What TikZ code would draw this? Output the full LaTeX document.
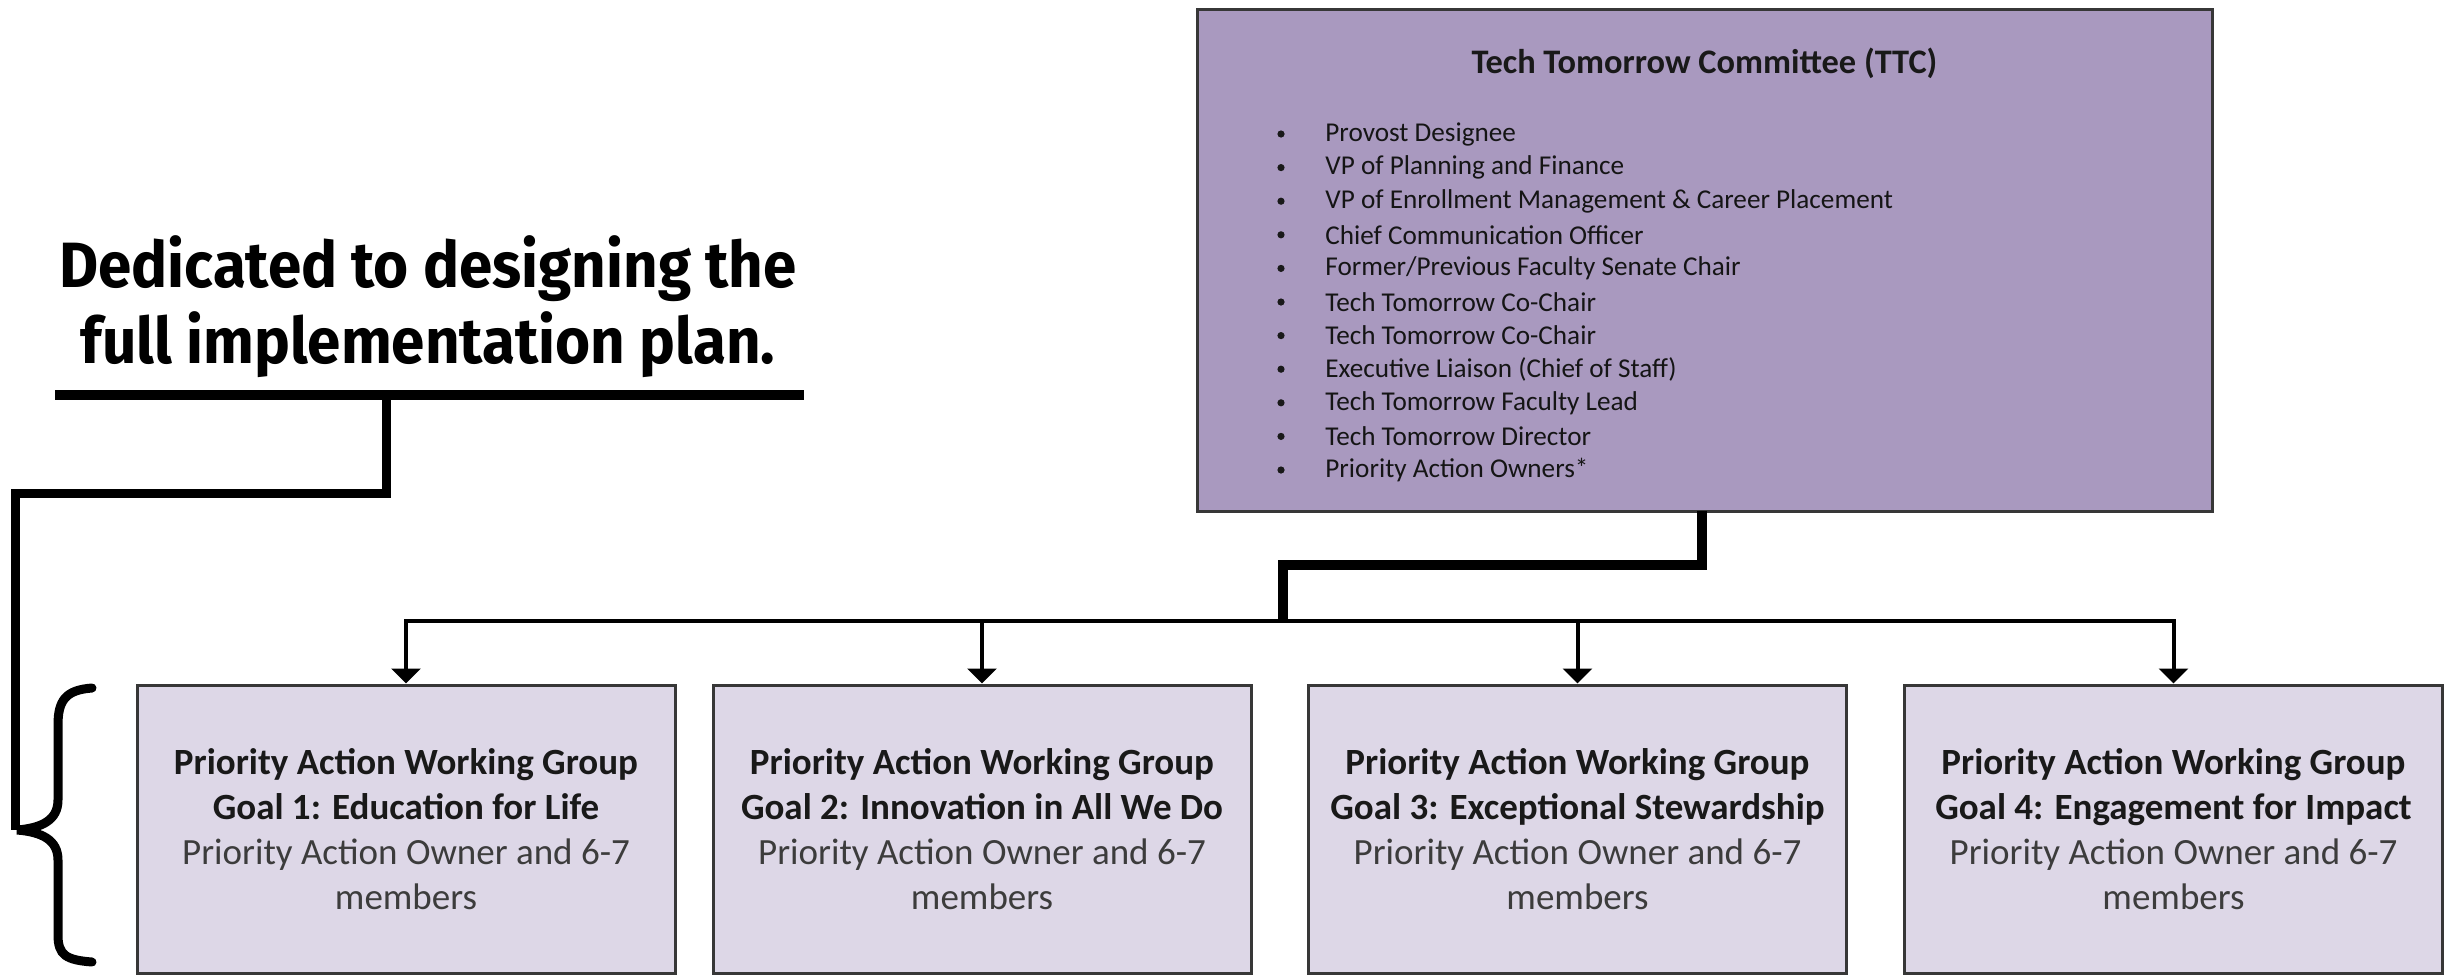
\documentclass[tikz,border=0pt]{standalone}
\usepackage{fontspec}
\setmainfont{Carlito}
\newfontfamily\notefont[FakeStretch=0.94]{Fira Sans}
\usetikzlibrary{arrows.meta}
\definecolor{ttcfill}{RGB}{169,153,191}
\definecolor{goalfill}{RGB}{221,215,231}
\definecolor{boxline}{RGB}{55,55,55}
\definecolor{bodytext}{RGB}{60,60,60}
\definecolor{headtext}{RGB}{25,25,25}
\begin{document}
\begin{tikzpicture}[x=0.5pt,y=-0.5pt,
  goalbox/.style={draw=boxline, line width=1.5pt, fill=goalfill, minimum width=269pt, minimum height=144pt,
    inner sep=0pt, align=center, font=\fontsize{18.5}{22.5}\selectfont, text=bodytext},
  ttcbox/.style={draw=boxline, line width=1.5pt, fill=ttcfill, minimum width=507.5pt, minimum height=251pt, inner sep=0pt},
  item/.style={anchor=west, font=\fontsize{13.6}{16}\selectfont, text=headtext!85!black, inner sep=0pt},
  dot/.style={circle, fill=headtext, inner sep=0pt, minimum size=3.6pt},
  notetext/.style={anchor=base, font=\notefont\bfseries\fontsize{32}{38}\selectfont, inner sep=0pt},
  heavy/.style={line width=5pt, line join=miter},
  bus/.style={line width=2pt, line join=miter},
  tip/.style={-{Triangle[width=14.5pt,length=7.5pt]}}
]
\useasboundingbox (0,0) rectangle (2448,976);

% Top committee box
\node[ttcbox] (ttc) at (1704.5,260) {};
\node[font=\bfseries\fontsize{17.2}{20}\selectfont, text=headtext] (title) at (1704.5,63) {Tech Tomorrow Committee (TTC)};
\foreach \t [count=\i from 0] in {Provost Designee,VP of Planning and Finance,VP of Enrollment Management \& Career Placement,Chief Communication Officer,Former/Previous Faculty Senate Chair,Tech Tomorrow Co-Chair,Tech Tomorrow Co-Chair,Executive Liaison (Chief of Staff),Tech Tomorrow Faculty Lead,Tech Tomorrow Director,Priority Action Owners*}{
  \node[dot] (b\i) at (1281,{134+\i*33.6}) {};
  \node[item] (it\i) at (1325,{134+\i*33.6}) {\t};
}

% Goal boxes
\node[goalbox] (g1) at (406,829) {\textbf{\color{headtext}Priority Action Working Group}\\\textbf{\color{headtext}Goal 1: Education for Life}\\Priority Action Owner and 6-7\\members};
\node[goalbox] (g2) at (982,829) {\textbf{\color{headtext}Priority Action Working Group}\\\textbf{\color{headtext}Goal 2: Innovation in All We Do}\\Priority Action Owner and 6-7\\members};
\node[goalbox] (g3) at (1577.5,829) {\textbf{\color{headtext}Priority Action Working Group}\\\textbf{\color{headtext}Goal 3: Exceptional Stewardship}\\Priority Action Owner and 6-7\\members};
\node[goalbox] (g4) at (2173.5,829) {\textbf{\color{headtext}Priority Action Working Group}\\\textbf{\color{headtext}Goal 4: Engagement for Impact}\\Priority Action Owner and 6-7\\members};

% Connectors
\coordinate (top) at (1702,511);
\coordinate (mid) at (1283,565);
\coordinate (bj) at (1283,621);
\draw[heavy] (top) |- (mid) -- (bj);
\draw[bus, {Triangle[width=14.5pt,length=7.5pt]}-{Triangle[width=14.5pt,length=7.5pt]}]
  (g1.north) -- (g1.north |- bj) -- (g4.north |- bj) -- (g4.north);
\draw[bus, tip] (g2.north |- bj) -- (g2.north);
\draw[bus, tip] (g3.north |- bj) -- (g3.north);

% Left note
\node[notetext] (note1) at (428,287) {Dedicated to designing the};
\node[notetext] (note2) at (428,363) {full implementation plan.};
\coordinate (ulL) at (55,395);
\coordinate (ulR) at (804,395);
\coordinate (ulM) at (386,395);
\coordinate (elbow) at (386,493);
\coordinate (corner) at (15,493);
\coordinate (btip) at (17,830);
\draw[line width=5pt] (ulL) -- (ulR);
\draw[line width=4.5pt, line join=miter] (ulM) -- (elbow) -- (corner) -- (15,830);

% Brace
\draw[line width=4.5pt, line cap=round]
  (92,688) .. controls (66,690) and (58,700) .. (58,725) -- (58,800)
  .. controls (58,820) and (42,828) .. (btip)
  .. controls (42,832) and (58,840) .. (58,860) -- (58,935)
  .. controls (58,955) and (66,960) .. (92,962);
\end{tikzpicture}
\end{document}
